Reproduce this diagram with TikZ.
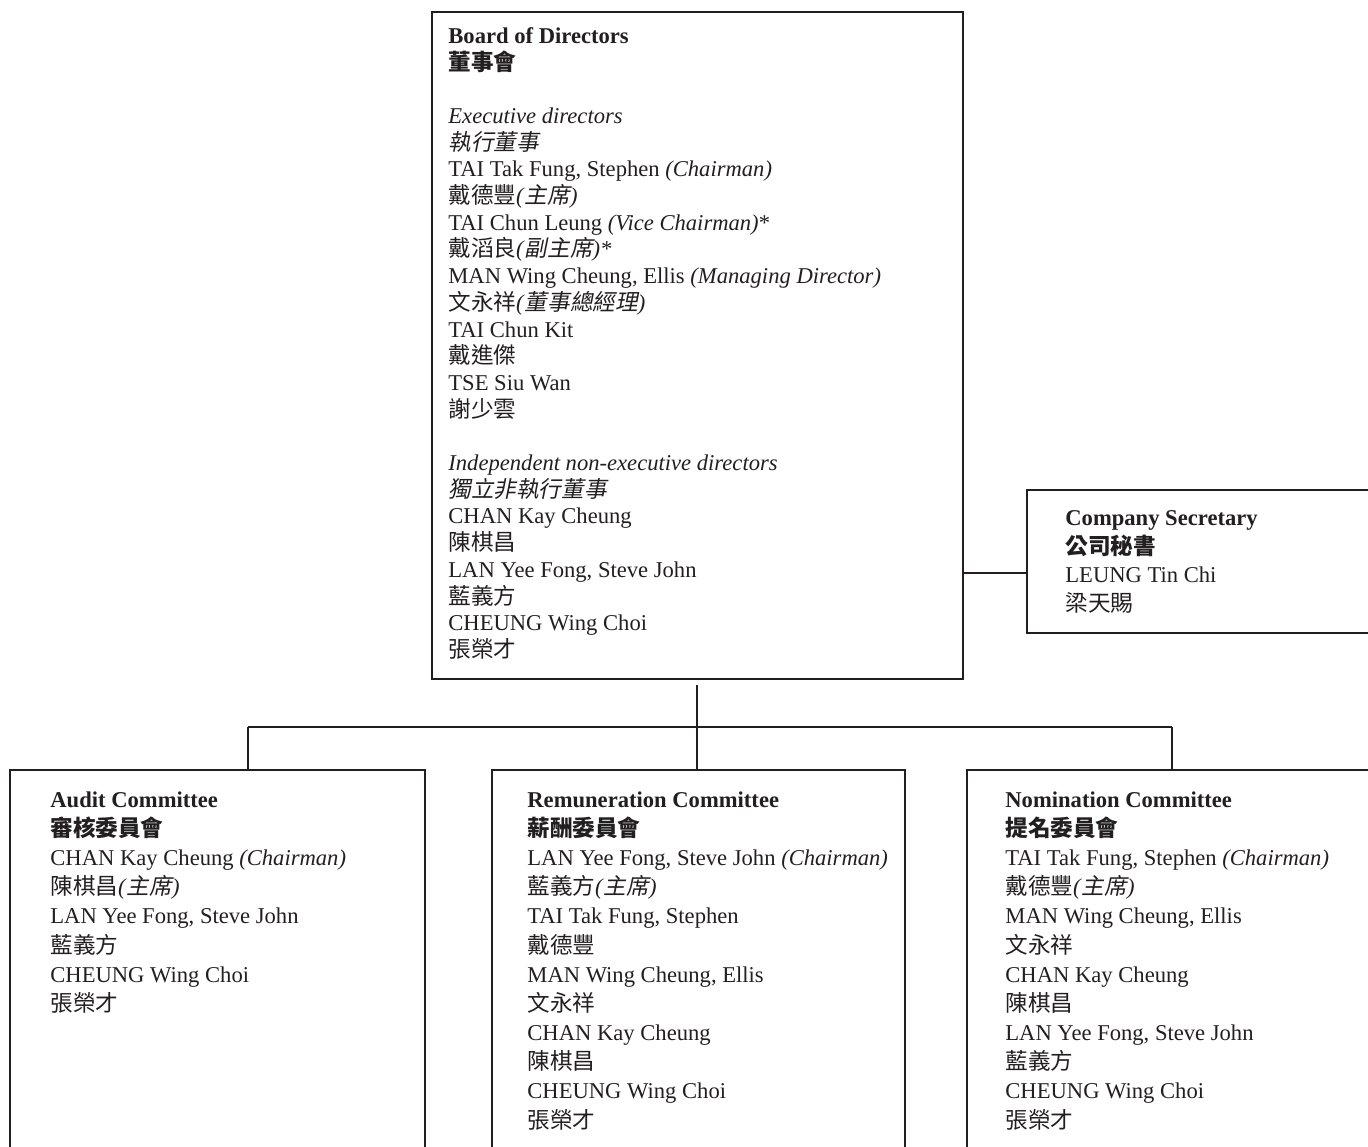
\documentclass[tikz,border=0pt]{standalone}
\usepackage{fontspec}
\setmainfont{Liberation Serif}
\newfontfamily\cjkfont{Noto Sans CJK TC}
\newfontfamily\cjkslantfont{Noto Sans CJK TC}[FakeSlant=0.2]
\usetikzlibrary{positioning,calc}

\definecolor{ink}{HTML}{231F20}
\newcommand{\cjk}[1]{{\cjkfont #1}}
\newcommand{\cjkit}[1]{{\cjkslantfont #1}}
\newcommand{\cjkbf}[1]{{\cjkfont\bfseries #1}}
\newcommand{\role}[1]{\textit{(#1)}}
\newcommand{\cjkrole}[1]{\textit{(}\cjkit{#1}\textit{)}}
\newcommand{\boxhead}[2]{{\bfseries #1}\\\cjkbf{#2}}

\tikzset{
  orgbox/.style={draw=ink, line width=0.8pt, rectangle, anchor=north west,
    inner sep=0pt, outer sep=0pt},
  orgtext/.style={anchor=north west, inner sep=0pt, align=left, text=ink},
  link/.style={draw=ink, line width=0.7pt},
}

\begin{document}
\begin{tikzpicture}[x=0.5pt, y=-0.5pt]
    \useasboundingbox (0,0) rectangle (1368,1146);
    \clip (0,0) rectangle (1368,1146);
    \def\Yhub{727}
    % boxes
    \node[orgbox, minimum width=265.5pt, minimum height=333.5pt] (board) at (432,12) {};
    \node[orgbox, minimum width=200pt, minimum height=71.5pt] (sec) at (1027,490) {};
    \node[orgbox, minimum width=207.5pt, minimum height=220pt] (audit) at (10,770) {};
    \node[orgbox, minimum width=206.5pt, minimum height=220pt] (rem) at (492,770) {};
    \node[orgbox, minimum width=230pt, minimum height=220pt] (nom) at (967,770) {};

    \node[orgtext, font=\fontsize{11.3}{13.35}\selectfont] (boardtxt) at (448,27) {%
      \textbf{Board of Directors}\\
      \cjkbf{董事會}\\[13.35pt]
      \textit{Executive directors}\\
      \cjkit{執行董事}\\
      TAI Tak Fung, Stephen \role{Chairman}\\
      \cjk{戴德豐}\cjkrole{主席}\\
      TAI Chun Leung \role{Vice Chairman}*\\
      \cjk{戴滔良}\cjkrole{副主席}\textit{*}\\
      MAN Wing Cheung, Ellis \role{Managing Director}\\
      \cjk{文永祥}\cjkrole{董事總經理}\\
      TAI Chun Kit\\
      \cjk{戴進傑}\\
      TSE Siu Wan\\
      \cjk{謝少雲}\\[13.35pt]
      \textit{Independent non-executive directors}\\
      \cjkit{獨立非執行董事}\\
      CHAN Kay Cheung\\
      \cjk{陳棋昌}\\
      LAN Yee Fong, Steve John\\
      \cjk{藍義方}\\
      CHEUNG Wing Choi\\
      \cjk{張榮才}};

    \node[orgtext, font=\fontsize{11.3}{14.33}\selectfont] (sectxt) at (1065,510) {%
      \boxhead{Company Secretary}{公司秘書}\\
      LEUNG Tin Chi\\
      \cjk{梁天賜}};

    \node[orgtext, font=\fontsize{11.3}{14.59}\selectfont] (audittxt) at (50,791) {%
      \boxhead{Audit Committee}{審核委員會}\\
      CHAN Kay Cheung \role{Chairman}\\
      \cjk{陳棋昌}\cjkrole{主席}\\
      LAN Yee Fong, Steve John\\
      \cjk{藍義方}\\
      CHEUNG Wing Choi\\
      \cjk{張榮才}};

    \node[orgtext, font=\fontsize{11.3}{14.59}\selectfont] (remtxt) at (527,791) {%
      \boxhead{Remuneration Committee}{薪酬委員會}\\
      LAN Yee Fong, Steve John \role{Chairman}\\
      \cjk{藍義方}\cjkrole{主席}\\
      TAI Tak Fung, Stephen\\
      \cjk{戴德豐}\\
      MAN Wing Cheung, Ellis\\
      \cjk{文永祥}\\
      CHAN Kay Cheung\\
      \cjk{陳棋昌}\\
      CHEUNG Wing Choi\\
      \cjk{張榮才}};

    \node[orgtext, font=\fontsize{11.3}{14.59}\selectfont] (nomtxt) at (1005,791) {%
      \boxhead{Nomination Committee}{提名委員會}\\
      TAI Tak Fung, Stephen \role{Chairman}\\
      \cjk{戴德豐}\cjkrole{主席}\\
      MAN Wing Cheung, Ellis\\
      \cjk{文永祥}\\
      CHAN Kay Cheung\\
      \cjk{陳棋昌}\\
      LAN Yee Fong, Steve John\\
      \cjk{藍義方}\\
      CHEUNG Wing Choi\\
      \cjk{張榮才}};

    % connectors
    \coordinate (seclink) at (1000,573);
    \draw[link] (board.east |- seclink) -- (sec.west |- seclink);
    \coordinate (hub) at (697,\Yhub);
    \draw[link] ([yshift=-3pt]board.south -| hub) -- (hub);
    \foreach \n/\x in {audit/248, rem/697, nom/1172} {
      \coordinate (drop\n) at (\x,\Yhub);
      \draw[link] (drop\n) -- (drop\n |- \n.north);
    }
    \draw[link] (dropaudit) -- (dropnom);
  \end{tikzpicture}
\end{document}
